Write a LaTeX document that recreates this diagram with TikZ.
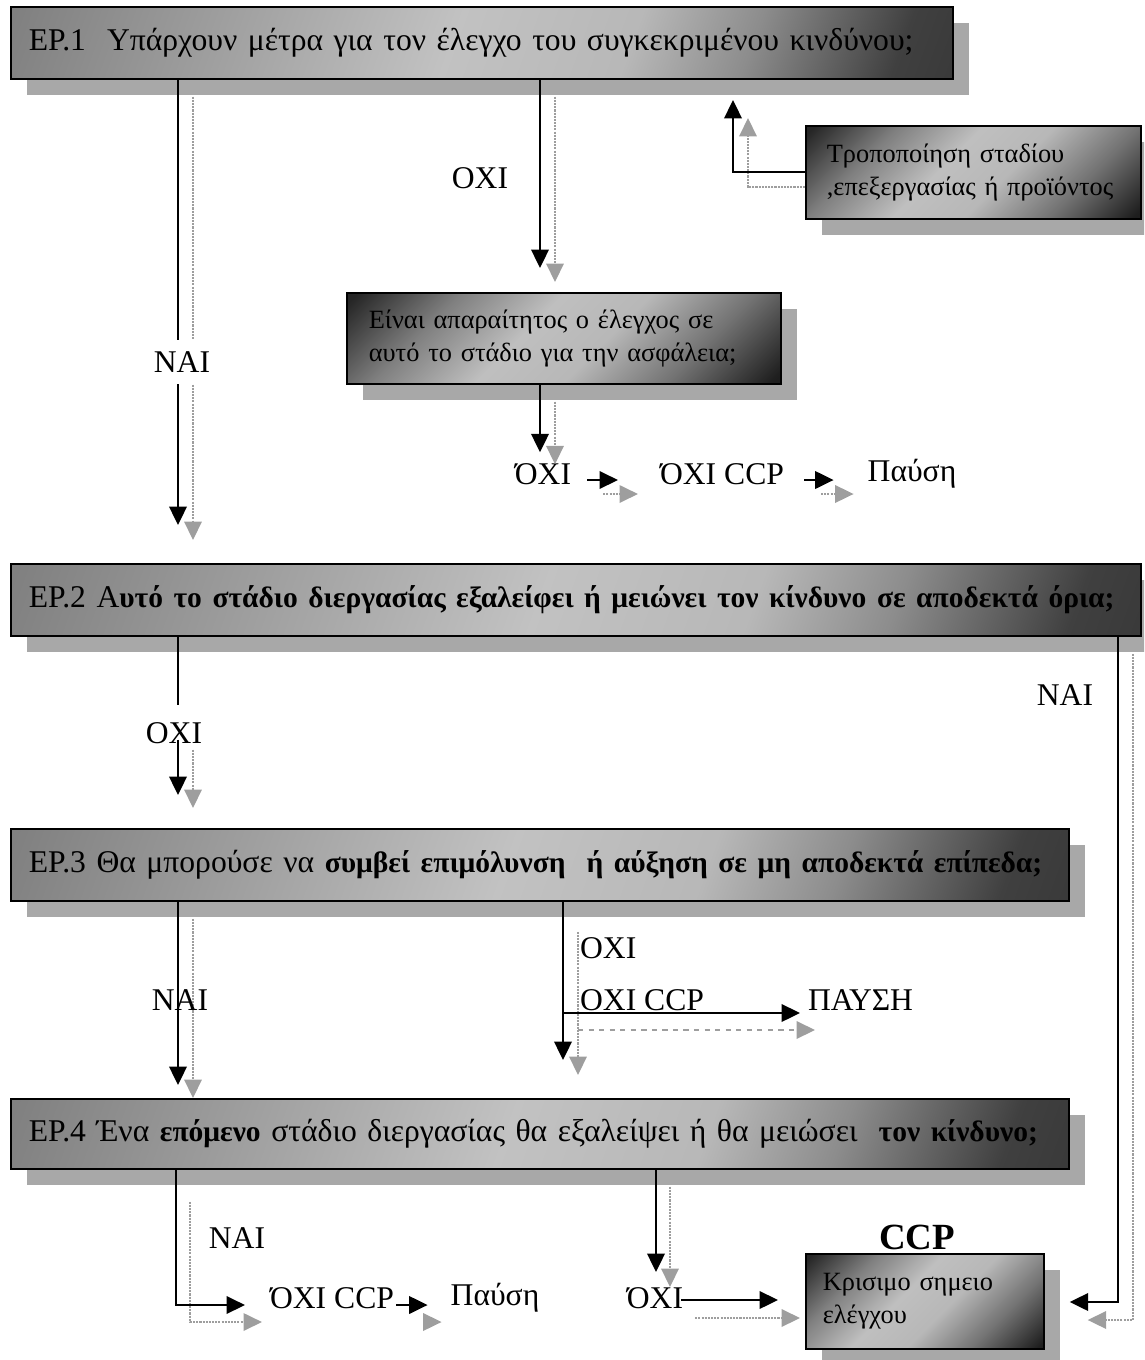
\documentclass[tikz,border=0pt]{standalone}
\usepackage{fontspec}
\setmainfont{Liberation Serif}
\usetikzlibrary{arrows.meta,shadows,calc}
\definecolor{shd}{gray}{0.66}
\definecolor{ghost}{gray}{0.62}
% gradient of the question bars: grey at the left, light in the middle, dark at the lower right
\pgfdeclarehorizontalshading{epshade}{100bp}{%
  color(0bp)=(black!55); color(18bp)=(black!50); color(32bp)=(black!38);
  color(48bp)=(black!24); color(60bp)=(black!28); color(68bp)=(black!45);
  color(78bp)=(black!75); color(100bp)=(black!88)}
% gradient of the small boxes: dark corners top left and bottom right
\pgfdeclarehorizontalshading{sbshade}{100bp}{%
  color(0bp)=(black!92); color(16bp)=(black!85); color(30bp)=(black!50);
  color(44bp)=(black!25); color(56bp)=(black!28); color(70bp)=(black!55);
  color(84bp)=(black!88); color(100bp)=(black!92)}
\tikzset{
  boxbase/.style={draw=black, line width=1pt, anchor=north west, inner ysep=0pt,
    align=left,
    drop shadow={shadow xshift=0.32cm, shadow yshift=-0.32cm, fill=shd, opacity=1}},
  qbox/.style={boxbase, inner xsep=0.36cm, shade, shading=epshade, shading angle=-20,
    font=\fontsize{18}{20}\selectfont},
  sbox/.style={boxbase, shade, shading=sbshade, shading angle=-45,
    font=\fontsize{15}{18.6}\selectfont},
  lbl/.style={font=\fontsize{18}{20}\selectfont, inner sep=1pt},
  cut/.style={lbl, fill=white, inner xsep=3pt, inner ysep=0.24cm},
  blk/.style={draw=black, line width=1.1pt},
  blkarr/.style={blk, -{Triangle[length=10.5pt,width=10pt]}},
  gry/.style={draw=ghost, line width=0.9pt, dash pattern=on 1.2pt off 0.6pt},
  gryarr/.style={gry, -{Triangle[length=10.5pt,width=10pt,fill=ghost,color=ghost]}},
}
% heavier lettering used in parts of the question bars
\newcommand{\hv}[1]{{\bfseries\fontsize{16.8}{20}\selectfont #1}}
\begin{document}
\begin{tikzpicture}[x=0.02cm,y=-0.02cm]
\useasboundingbox (0,0) rectangle (1144,1360);
\clip (0,0) rectangle (1144,1360);

% question boxes
\node[qbox, minimum width=18.84cm, minimum height=1.44cm, text width=18.12cm] (ep1) at (10,6)
  {\mbox{ΕΡ.1\ \ Υπάρχουν μέτρα για τον έλεγχο του συγκεκριμένου κινδύνου;}};
\node[sbox, inner xsep=0.42cm, minimum width=6.7cm, minimum height=1.86cm, text width=5.86cm] (tr) at (805,125)
  {Τροποποίηση σταδίου\\,επεξεργασίας ή προϊόντος};
\node[sbox, inner xsep=0.44cm, minimum width=8.68cm, minimum height=1.82cm, text width=7.8cm] (eb) at (346,292)
  {Είναι απαραίτητος ο έλεγχος σε\\αυτό το στάδιο για την ασφάλεια;};
\node[qbox, minimum width=22.6cm, minimum height=1.44cm, text width=21.88cm] (ep2) at (10,563)
  {\mbox{ΕΡ.2 Α\hv{υτό το στάδιο διεργασίας εξαλείφει ή μειώνει τον κίνδυνο σε αποδεκτά όρια;}}};
\node[qbox, minimum width=21.16cm, minimum height=1.44cm, text width=20.44cm] (ep3) at (10,828)
  {\mbox{ΕΡ.3 Θα μπορούσε να \hv{συμβεί επιμόλυνση\ \ ή αύξηση σε μη αποδεκτά επίπεδα;}}};
\node[qbox, minimum width=21.16cm, minimum height=1.4cm, text width=20.44cm] (ep4) at (10,1098)
  {\mbox{ΕΡ.4 Ένα \hv{επόμενο} στάδιο διεργασίας θα εξαλείψει ή θα μειώσει\ \ \hv{τον κίνδυνο;}}};
\node[sbox, inner xsep=0.34cm, minimum width=4.76cm, minimum height=1.9cm, text width=4.08cm] (ccp) at (805,1253)
  {Κρισιμο σημειο\\ελέγχου};
\node[font=\bfseries\fontsize{21}{24}\selectfont, inner sep=0pt] (ccptag) at (917,1237) {CCP};

% free ends of the connectors
\coordinate (a1) at (540,268);   \coordinate (a1g) at (555,282);
\coordinate (b1) at (178,525);   \coordinate (b1g) at (193,540);
\coordinate (c1) at (733,100);   \coordinate (c1g) at (748,118);
\coordinate (g1) at (178,795);   \coordinate (g1g) at (193,808);
\coordinate (h1) at (1118,1302); \coordinate (h1g) at (1133,1320);
\coordinate (i1) at (178,1085);  \coordinate (i1g) at (193,1098);
\coordinate (j1) at (563,1060);  \coordinate (j1g) at (578,1075);
\coordinate (k1) at (176,1305);  \coordinate (k1g) at (190,1322);
\coordinate (m1) at (656,1272);  \coordinate (m1g) at (670,1287);

% text labels along the flow
\node[lbl] (no1) at (480,178) {ΟΧΙ};
\node[lbl] (no2) at (543,474) {ΌΧΙ};
\node[lbl] (noccp1) at (722,474) {ΌΧΙ CCP};
\node[lbl] (stop1) at (912,474) {Παύση};
\node[lbl] (nai2) at (1065,695) {ΝΑΙ};
\node[lbl, anchor=west] (no4) at (578,948) {ΟΧΙ};
\node[lbl, anchor=west] (noccp2) at (578,1000) {ΟΧΙ CCP};
\node[lbl, anchor=west] (stop2) at (806,1000) {ΠΑΥΣΗ};
\node[lbl] (nai4) at (237,1238) {ΝΑΙ};
\node[lbl] (noccp3) at (332,1298) {ΌΧΙ CCP};
\node[lbl] (stop3) at (495,1298) {Παύση};
\node[lbl] (no5) at (655,1298) {ΌΧΙ};

% EP.1 -> NAI -> EP.2
\draw[gryarr] ($(ep1.south -| b1g)+(0,17)$) -- (b1g);
\draw[blkarr] (ep1.south -| b1) -- (b1);
\node[cut] (nai1) at (182,362) {ΝΑΙ};

% EP.1 -> OXI -> control question
\draw[gryarr] ($(ep1.south -| a1g)+(0,17)$) -- (a1g);
\draw[blkarr] (ep1.south -| a1) -- (a1);

% modification loops back to EP.1
\draw[gryarr] (tr.west |- 0,187) -| (c1g);
\draw[blkarr] (tr.west |- 0,172) -| (c1);

% control question -> OXI -> OXI CCP -> stop
\draw[gryarr] ($(eb.south -| no2)+(12,17)$) -- ($(no2.north)+(12,3)$);
\draw[blkarr] ($(eb.south -| no2)+(-3,0)$) -- ($(no2.north)+(-3,-9)$);
\draw[gryarr] ($(no2.east)+(30,20)$) -- ($(noccp1.west)+(-20,20)$);
\draw[blkarr] ($(no2.east)+(14,6)$) -- ($(noccp1.west)+(-40,6)$);
\draw[gryarr] ($(noccp1.east)+(35,20)$) -- ($(stop1.west)+(-12,20)$);
\draw[blkarr] ($(noccp1.east)+(18,6)$) -- ($(stop1.west)+(-32,6)$);

% EP.2 -> OXI -> EP.3
\draw[blk] (ep2.south -| g1) -- (g1 |- 0,705);
\node[lbl] (no3) at (174,733) {ΟΧΙ};
\draw[gryarr] ($(no3.south -| g1g)+(0,4)$) -- (g1g);
\draw[blkarr] ($(no3.south -| g1)+(0,-6)$) -- (g1);

% EP.2 -> NAI -> CCP
\draw[gryarr] ($(ep2.south -| h1g)+(0,17)$) -- (h1g) -- ($(ccp.east |- h1g)+(43,0)$);
\draw[blkarr] (ep2.south -| h1) -- (h1) -- ($(ccp.east |- h1)+(25,0)$);

% EP.3 -> NAI -> EP.4
\draw[gryarr] ($(ep3.south -| i1g)+(0,17)$) -- (i1g);
\draw[blkarr] (ep3.south -| i1) -- (i1);
\node[lbl] (nai3) at (180,1000) {ΝΑΙ};

% EP.3 -> OXI -> OXI CCP -> stop
\draw[gryarr] ($(ep3.south -| j1g)+(0,30)$) -- (j1g);
\draw[blkarr] (ep3.south -| j1) -- (j1);
\draw[gry, dashed, -{Triangle[length=10.5pt,width=10pt,fill=ghost,color=ghost]}]
  (j1g |- 0,1030) -- ($(stop2.west |- 0,1030)+(9,0)$);
\draw[blkarr] (j1 |- 0,1013) -- ($(stop2.west |- 0,1013)+(-6,0)$);

% EP.4 -> NAI -> OXI CCP -> stop
\draw[gryarr] ($(ep4.south -| k1g)+(0,32)$) -- (k1g) -- ($(noccp3.west |- k1g)+(-6,0)$);
\draw[blkarr] (ep4.south -| k1) -- (k1) -- ($(noccp3.west |- k1)+(-23,0)$);
\draw[gryarr] ($(noccp3.east |- 0,1322)+(28,0)$) -- ($(stop3.west |- 0,1322)+(-7,0)$);
\draw[blkarr] ($(noccp3.east |- 0,1305)+(0,0)$) -- ($(stop3.west |- 0,1305)+(-21,0)$);

% EP.4 -> OXI -> CCP
\draw[gryarr] ($(ep4.south -| m1g)+(0,17)$) -- (m1g);
\draw[blkarr] (ep4.south -| m1) -- (m1);
\draw[gryarr] ($(no5.east |- 0,1318)+(10,0)$) -- ($(ccp.west |- 0,1318)+(-5,0)$);
\draw[blkarr] ($(no5.east |- 0,1300)+(-4,0)$) -- ($(ccp.west |- 0,1300)+(-27,0)$);
\end{tikzpicture}
\end{document}
